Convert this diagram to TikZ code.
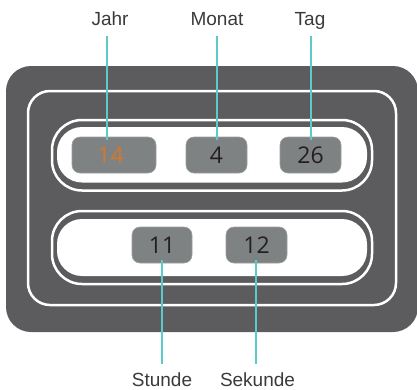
\documentclass[tikz,border=0pt]{standalone}
\usepackage{fontspec}
\setmainfont{Liberation Sans}
\newfontfamily\numfont{Open Sans}
\usetikzlibrary{calc}
\definecolor{darkbg}{HTML}{5C5C5E}
\definecolor{boxgray}{HTML}{7F8283}
\definecolor{boxedge}{HTML}{9C9E9F}
\definecolor{teal}{HTML}{5CC9CB}
\definecolor{numorange}{HTML}{D4782C}
\definecolor{numdark}{HTML}{231F20}
\definecolor{labeltext}{HTML}{3A3A3A}
\begin{document}
\begin{tikzpicture}[x=1pt,y=-1pt,
  ring/.style={draw=white,line width=2.5pt},
  fillcap/.style={fill=white,rounded corners=25pt},
  numbox/.style={draw=boxedge,line width=0.6pt,fill=boxgray,rounded corners=8pt,
    minimum height=36pt,inner sep=0pt,text=numdark,
    font=\numfont\fontsize{23}{23}\selectfont},
  lbl/.style={anchor=base,text=labeltext,font=\fontsize{19}{19}\selectfont,inner sep=0pt},
  conn/.style={draw=teal,line width=2.7pt}]
\useasboundingbox (0,0) rectangle (417,389);
% frame
\fill[darkbg,rounded corners=25pt] (6,66) rectangle (418,332);
\draw[ring,rounded corners=22pt] (28,91) rectangle (396,305);
% top capsule
\draw[ring,rounded corners=30pt] (52,120) rectangle (372,190.5);
\fill[fillcap] (57,127) rectangle (367,182.5);
% bottom capsule
\draw[ring,rounded corners=30pt] (52,211) rectangle (372,284);
\fill[fillcap] (57,219) rectangle (367,276);
% boxes
\node[numbox,minimum width=84pt,text=numorange] (b14) at (114,155) {\hspace*{-7pt}14};
\node[numbox,minimum width=61pt] (b4) at (216.5,155) {4};
\node[numbox,minimum width=61pt] (b26) at (310.5,155) {26};
\node[numbox,minimum width=60pt] (b11) at (162,245) {11};
\node[numbox,minimum width=61pt] (b12) at (256.5,245) {12};
% labels
\node[lbl] (jahr) at (110,25) {Jahr};
\node[lbl] (monat) at (217,25) {Monat};
\node[lbl] (tag) at (310,25) {Tag};
\node[lbl] (stunde) at (162,386) {Stunde};
\node[lbl] (sekunde) at (257.5,386) {Sekunde};
% connector ends
\coordinate (cj) at (107,36);
\coordinate (cm) at (217,36);
\coordinate (ct) at (311,36);
\coordinate (cs) at (162,364);
\coordinate (ck) at (256,364);
\draw[conn] (cj) -- ($(cj |- b14.north)+(0,3)$);
\draw[conn] (cm) -- ($(cm |- b4.north)+(0,3)$);
\draw[conn] (ct) -- ($(ct |- b26.north)+(0,3)$);
\draw[conn] (cs) -- ($(cs |- b11.south)+(0,-3)$);
\draw[conn] (ck) -- ($(ck |- b12.south)+(0,-3)$);
\end{tikzpicture}
\end{document}
